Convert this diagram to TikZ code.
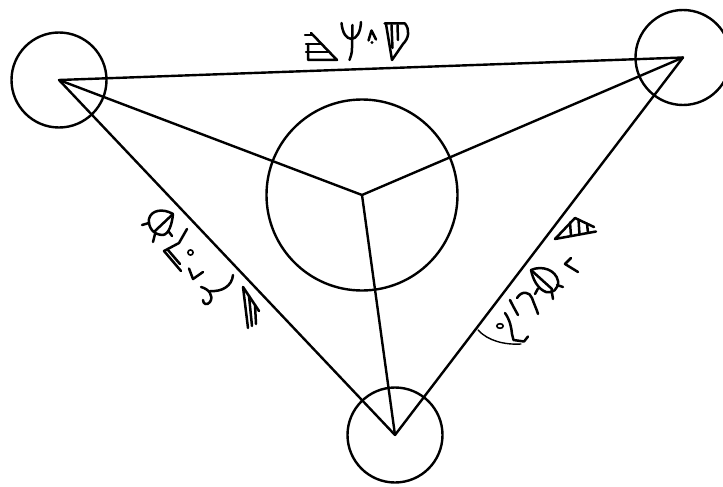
\documentclass[tikz,border=0pt]{standalone}
\usepackage{tikz}
\tikzset{
    ring/.style={draw, circle, line width=2.4pt, inner sep=0pt},
    bar/.style={line width=2.4pt, line cap=round},
    glyph/.style={line width=2.5pt, line cap=round, line join=round},
    thinglyph/.style={line width=1.4pt, line cap=round}
}

\begin{document}
\begin{tikzpicture}[x=1pt, y=-1pt]
    \useasboundingbox (0,0) rectangle (723,487);

    \node[ring, minimum size=95pt] (left) at (59,80) {};
    \node[ring, minimum size=95pt] (right) at (683,57.5) {};
    \node[ring, minimum size=95pt] (bottom) at (395,435) {};
    \node[ring, minimum size=191pt] (middle) at (362,195) {};

    \draw[bar] (left.center) -- (right.center);
    \draw[bar] (right.center) -- (bottom.center);
    \draw[bar] (bottom.center) -- (left.center);
    \draw[bar] (middle.center) -- (left.center);
    \draw[bar] (middle.center) -- (right.center);
    \draw[bar] (middle.center) -- (bottom.center);

    % top edge
    \draw[glyph] (311,33) -- (337,60) -- (308,60) -- (308,44);
    \draw[glyph] (305,35) -- (313,35);
    \draw[glyph] (306,44) -- (321,44);
    \draw[glyph] (306,52) -- (328,52);
    \draw[glyph] (341.5,23) .. controls (342.5,33) and (346,38.5) .. (351.5,39)
        .. controls (357,38.5) and (360.5,32) .. (361,22);
    \draw[glyph] (352.5,25) -- (352,48) .. controls (352,54) and (350.5,57) .. (349.5,60);
    \draw[glyph] (368.5,40.5) -- (371.5,30.5) -- (376,39.5);
    \fill (372,42.5) circle (1.7pt);
    \draw[glyph] (384.5,23.5) -- (405,23.5) .. controls (410,30) and (409,38) .. (403,44)
        -- (392,60) -- (386,24);
    \draw[glyph] (391.5,25) -- (392.5,48);
    \draw[glyph] (397.5,25) -- (398,40);

    % left edge
    \draw[glyph] (173,214) .. controls (163,208) and (151,210) .. (149,219)
        .. controls (148,228) and (154,235) .. (163,235)
        .. controls (169,234) and (172,224) .. (173,214);
    \draw[glyph] (173,214) -- (155,231);
    \draw[glyph] (142,225) -- (149,223);
    \draw[glyph] (153,242) -- (155,234);
    \draw[glyph] (172,236) -- (169,232);
    \draw[glyph] (187,229) -- (179,243) -- (164,251) -- (181,271);
    \draw[glyph] (168,250) -- (180,264);
    \draw[line width=1.6pt] (190.5,252.5) circle (2.6pt);
    \draw[glyph] (189,268.5) -- (193,279) -- (203,272);
    \draw[glyph] (233,275) .. controls (232,286) and (222,292) .. (210,291);
    \draw[glyph] (201,287) .. controls (209,289) and (214,296) .. (210,302)
        .. controls (207,306) and (203,304) .. (203,300);
    \draw[glyph] (243,287) -- (259,311);
    \draw[glyph] (243,287) -- (248,328);
    \draw[glyph] (249,296) -- (252,326);
    \draw[glyph] (255,305) -- (256,324);

    % right edge
    \draw[glyph] (575,218) -- (555,239) -- (596,231.5);
    \draw[glyph] (575,218) -- (594,227);
    \draw[glyph] (570,222.5) -- (571,236);
    \draw[glyph] (578.5,219.5) -- (579.5,234.5);
    \draw[glyph] (587,223.5) -- (588,233);
    \draw[glyph] (571,258) -- (565,264) -- (578,272);
    \draw[glyph] (531,270) .. controls (542,265) and (556,270) .. (558,281)
        .. controls (559,289) and (552,294) .. (546,292)
        .. controls (538,289) and (533,280) .. (531,270);
    \draw[glyph] (531,270) -- (552,289);
    \draw[glyph] (557,285) -- (563,287);
    \draw[glyph] (551.5,290) -- (553,299);
    \draw[glyph] (538,288.5) -- (535,294);
    \draw[glyph] (510,300) .. controls (513,306) .. (518,315);
    \draw[glyph] (517,298) .. controls (522,290) and (530,292) .. (532,298)
        .. controls (534,304) and (537,310) .. (538,314);
    \draw[line width=1.6pt] (500,326) ellipse (3.2pt and 2.3pt);
    \draw[glyph] (505,313) .. controls (510,320) and (511.5,328) .. (512,334)
        -- (513.5,340) -- (524,341.5) -- (528,336.5);
    \draw[thinglyph] (478,330) .. controls (488,341) and (505,345) .. (521,344);
\end{tikzpicture}
\end{document}
